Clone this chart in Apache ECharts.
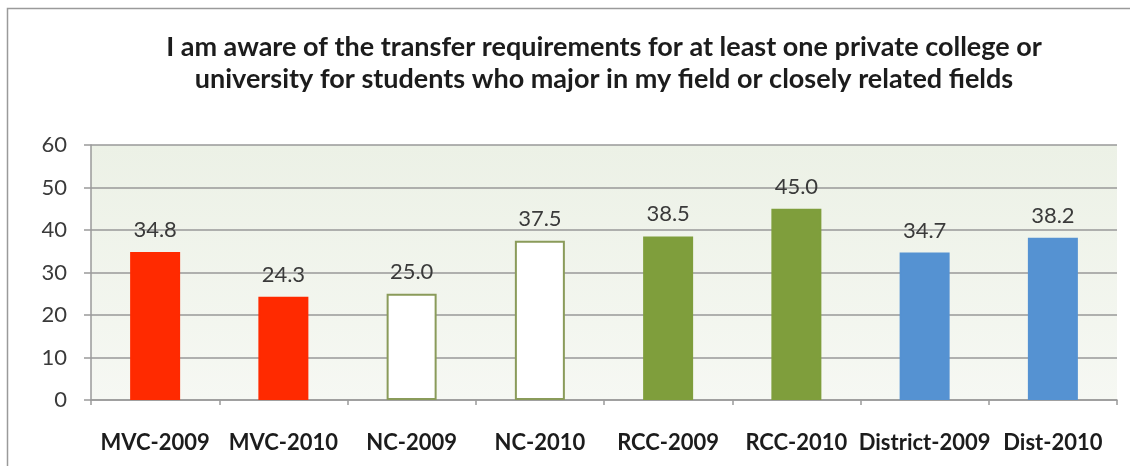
<!DOCTYPE html>
<html>
<head>
<meta charset="utf-8">
<script src="https://cdn.jsdelivr.net/npm/echarts@6/dist/echarts.min.js"></script>
<style>
  html, body { margin: 0; padding: 0; background: #ffffff; }
  #chart { width: 1130px; height: 466px; }
</style>
</head>
<body>
<div id="chart"></div>
<script>
// Survey responses: percent agreeing, by college and year
const categories = ['MVC-2009', 'MVC-2010', 'NC-2009', 'NC-2010', 'RCC-2009', 'RCC-2010', 'District-2009', 'Dist-2010'];
const values = [34.8, 24.3, 25.0, 37.5, 38.5, 45.0, 34.7, 38.2];
const yTicks = [0, 10, 20, 30, 40, 50, 60];
const titleLines = [
  'I am aware of the transfer requirements for at least one private college or',
  'university for students who major in my field or closely related fields'
];

// Fill and border per college group
const fills = ['#ff2a00', '#ff2a00', '#ffffff', '#ffffff', '#7f9e3c', '#7f9e3c', '#5592d2', '#5592d2'];
const borders = ['#ff2a00', '#ff2a00', '#8a9b5a', '#8a9b5a', '#7f9e3c', '#7f9e3c', '#5592d2', '#5592d2'];

const FONT = 'Lato, "Open Sans", sans-serif';

const chart = echarts.init(document.getElementById('chart'), null, { renderer: 'canvas' });

chart.setOption({
  backgroundColor: '#ffffff',
  animation: false,
  title: {
    text: titleLines.join('\n'),
    left: 599,
    textAlign: 'center',
    top: 26,
    textStyle: {
      fontFamily: FONT,
      fontSize: 27,
      fontWeight: 'bold',
      color: '#1c1c1c',
      lineHeight: 32
    }
  },
  graphic: [
    {
      type: 'rect',
      silent: true,
      z: -10,
      shape: { x: 7.5, y: 8.5, width: 1200, height: 600 },
      style: { fill: 'none', stroke: '#9a9a9a', lineWidth: 1.5 }
    }
  ],
  grid: {
    left: 91,
    right: 13,
    top: 145,
    bottom: 66,
    show: true,
    borderWidth: 0,
    backgroundColor: new echarts.graphic.LinearGradient(0, 0, 0, 1, [
      { offset: 0, color: '#ecf1e6' },
      { offset: 1, color: '#f6f8f3' }
    ])
  },
  xAxis: {
    type: 'category',
    data: categories,
    axisLine: { show: true, lineStyle: { color: '#9a9a9a', width: 1.5 } },
    axisTick: { show: true, length: 5, alignWithLabel: false, lineStyle: { color: '#9a9a9a', width: 1.5 } },
    axisLabel: {
      margin: 32,
      fontFamily: FONT,
      fontSize: 22,
      fontWeight: 'bold',
      color: '#1c1c1c',
      interval: 0
    }
  },
  yAxis: {
    type: 'value',
    min: yTicks[0],
    max: yTicks[yTicks.length - 1],
    interval: yTicks[1] - yTicks[0],
    axisLine: { show: true, lineStyle: { color: '#9a9a9a', width: 1.5 } },
    axisTick: { show: true, length: 7, lineStyle: { color: '#9a9a9a', width: 1.5 } },
    splitLine: { show: true, lineStyle: { color: '#999999', width: 1.5 } },
    axisLabel: {
      margin: 24,
      fontFamily: FONT,
      fontSize: 22,
      color: '#3a3a3a'
    }
  },
  series: [
    {
      type: 'bar',
      barWidth: 50,
      data: values.map((v, i) => ({
        value: v,
        itemStyle: { color: fills[i], borderColor: borders[i], borderWidth: 2 }
      })),
      label: {
        show: true,
        position: 'top',
        distance: 11,
        fontFamily: FONT,
        fontSize: 22,
        color: '#3a3a3a',
        formatter: p => p.value.toFixed(1)
      }
    }
  ]
});
</script>
</body>
</html>
